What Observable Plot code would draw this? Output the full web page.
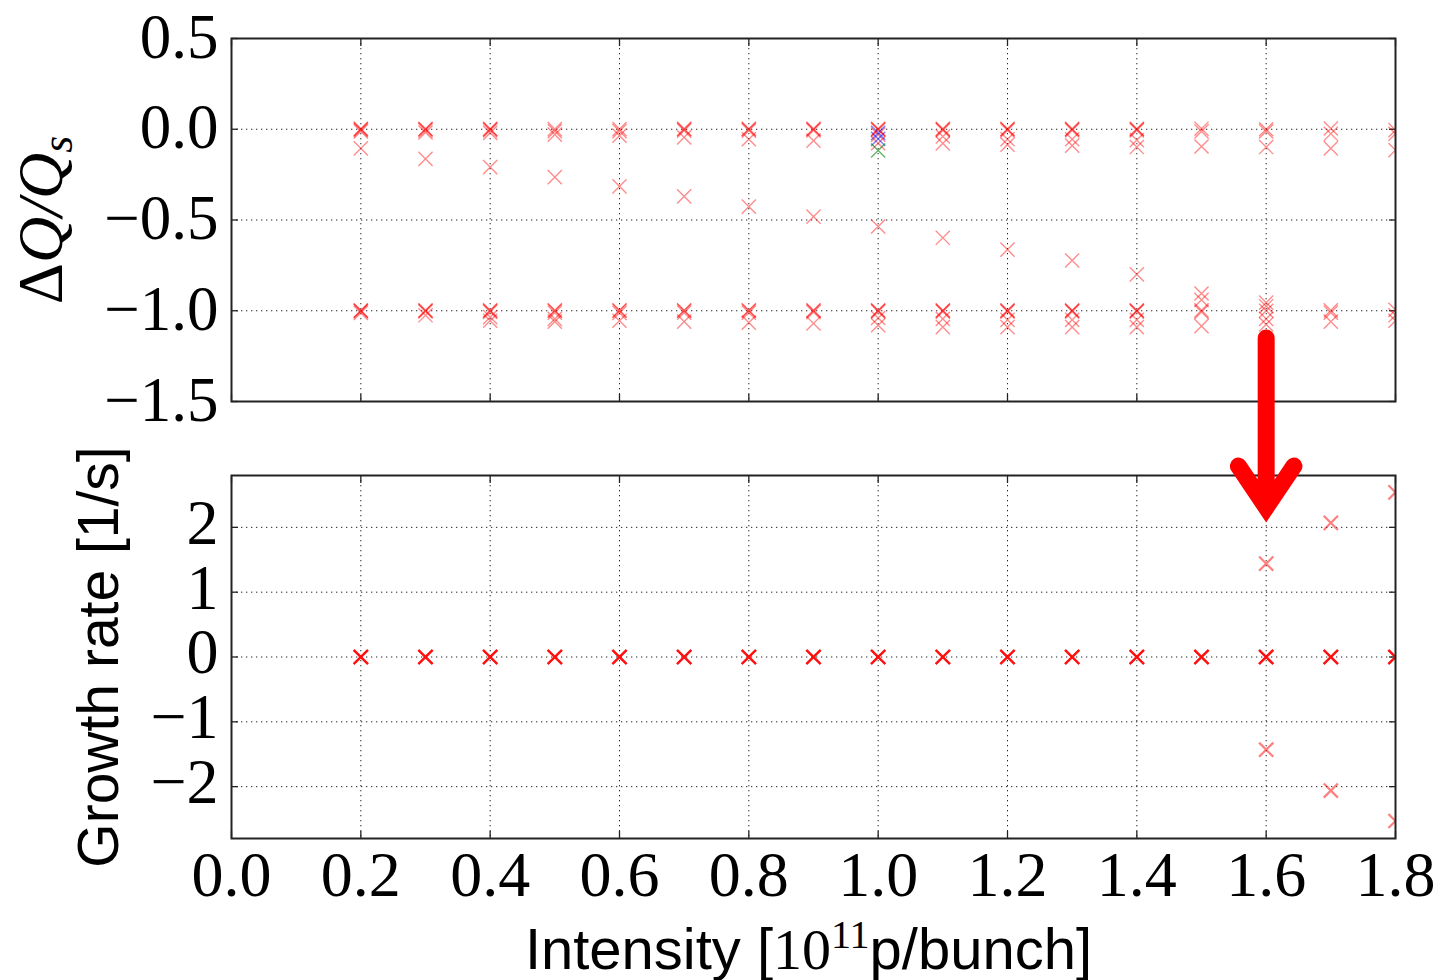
<!DOCTYPE html>
<html>
<head>
<meta charset="utf-8">
<script src="https://cdn.jsdelivr.net/npm/d3@7"></script>
<script src="https://cdn.jsdelivr.net/npm/@observablehq/plot@0.6"></script>
<style>
  body { margin: 0; background: #fff; }
  #fig { position: relative; width: 1435px; height: 980px; overflow: hidden; background: #fff; }
  #fig svg { display: block; overflow: visible; }
</style>
</head>
<body>
<div id="fig"></div>
<script>
// ---------- data ----------
const intensity = [0.2, 0.3, 0.4, 0.5, 0.6, 0.7, 0.8, 0.9, 1.0, 1.1, 1.2, 1.3, 1.4, 1.5, 1.6, 1.7, 1.8];

// ΔQ/Qs of the red markers, one list per intensity
const dqRed = [
  [0.003, 0.0, -0.004, -0.012, -0.105, -0.998, -1.0, -1.003, -1.012],
  [0.002, 0.0, -0.006, -0.018, -0.163, -0.998, -1.0, -1.004, -1.025],
  [0.002, 0.0, -0.006, -0.02, -0.209, -0.998, -1.0, -1.006, -1.035, -1.055],
  [0.001, -0.01, -0.03, -0.264, -0.998, -1.0, -1.01, -1.045, -1.06],
  [0.001, -0.01, -0.035, -0.315, -0.998, -1.0, -1.012, -1.055],
  [0.002, 0.0, -0.008, -0.045, -0.37, -0.998, -1.0, -1.01, -1.06],
  [0.002, 0.0, -0.008, -0.055, -0.426, -0.998, -1.0, -1.01, -1.065],
  [0.002, 0.0, -0.006, -0.063, -0.481, -0.998, -1.0, -1.008, -1.07],
  [0.003, 0.0, -0.004, -0.03, -0.077, -0.536, -0.998, -1.0, -1.005, -1.04, -1.08],
  [0.002, 0.0, -0.006, -0.04, -0.078, -0.598, -0.998, -1.0, -1.005, -1.045, -1.09],
  [0.002, 0.0, -0.006, -0.055, -0.085, -0.663, -0.998, -1.0, -1.005, -1.05, -1.09],
  [0.002, 0.0, -0.006, -0.055, -0.09, -0.723, -0.998, -1.0, -1.005, -1.05, -1.09],
  [0.002, 0.0, -0.006, -0.06, -0.098, -0.80, -0.998, -1.0, -1.005, -1.05, -1.09],
  [0.003, -0.012, -0.095, -0.905, -0.94, -0.998, -1.006, -1.085],
  [0.0, -0.012, -0.098, -0.955, -0.975, -1.0, -1.045, -1.075],
  [0.004, -0.025, -0.105, -0.998, -1.01, -1.06],
  [-0.005, -0.025, -0.115, -0.995, -1.025, -1.055]
];
const blueX = [1.0, 1.0];
const blueDq = [-0.02, -0.053];
const greenX = [1.0];
const greenDq = [-0.117];

// growth rate [1/s] of the red markers, one list per intensity
const growthRed = [
  [0, 0, 0, 0], [0, 0, 0, 0], [0, 0, 0, 0], [0, 0, 0, 0], [0, 0, 0, 0],
  [0, 0, 0, 0], [0, 0, 0, 0], [0, 0, 0, 0], [0, 0, 0, 0], [0, 0, 0, 0],
  [0, 0, 0, 0], [0, 0, 0, 0], [0, 0, 0, 0], [0, 0, 0, 0],
  [0, 0, 0, 0, 1.44, -1.43],
  [0, 0, 0, 0, 2.07, -2.06],
  [0, 0, 0, 0, 2.54, -2.53]
];

const xTicks = [0, 0.2, 0.4, 0.6, 0.8, 1.0, 1.2, 1.4, 1.6, 1.8];
const dqTicks = [0.5, 0, -0.5, -1.0, -1.5];
const growthTicks = [2, 1, 0, -1, -2];
const xDomain = [0, 1.8];
const dqDomain = [-1.5, 0.5];
const growthDomain = [-2.8, 2.8];

const dqLabel = "ΔQ/Qs";
const growthLabel = "Growth rate [1/s]";
const xLabel = "Intensity [1011p/bunch]";

// annotation arrow (data units of the lower panel)
const arrowX = 1.6, arrowFrom = 4.92, arrowTo = 2.31;

// ---------- helpers ----------
const minus = (s) => s.replace("-", "\u2212");
const fmtDq = (d) => minus(d.toFixed(1));
const fmtGr = (d) => minus(String(d));
const fmtX = (d) => d.toFixed(1);

const W = 1435;
const serif = "'Liberation Serif', 'DejaVu Serif', serif";
const sans = "'Liberation Sans', Arial, Helvetica, sans-serif";
const red = "#ff0000";

const topRed = intensity.flatMap((x, i) => dqRed[i].map((y) => ({x, y})));
const topBlue = blueX.map((x, i) => ({x, y: blueDq[i]}));
const topGreen = greenX.map((x, i) => ({x, y: greenDq[i]}));
const botRed = intensity.flatMap((x, i) => growthRed[i].map((y) => ({x, y})));

function frameMarks(yTicks, showX) {
  const gridStyle = {stroke: "#222", strokeOpacity: 1, strokeWidth: 1, strokeDasharray: "1.3,3.7"};
  const tickStyle = {tickSize: 7, tickFormat: () => "", label: null, stroke: "#222", strokeWidth: 1.3};
  return [
    Plot.gridX(xTicks, gridStyle),
    Plot.gridY(yTicks, gridStyle),
    Plot.axisX(xTicks, {anchor: "bottom", dy: -7, ...tickStyle}),
    Plot.axisX(xTicks, {anchor: "top", dy: 7, ...tickStyle}),
    Plot.axisY(yTicks, {anchor: "left", dx: 7, ...tickStyle}),
    Plot.axisY(yTicks, {anchor: "right", dx: -7, ...tickStyle}),
    ...(showX ? [Plot.axisX(xTicks, {anchor: "bottom", tickSize: 0, tickPadding: 12, tickFormat: fmtX,
      label: null, fontSize: 64, fontFamily: serif, fill: "#000"})] : [])
  ];
}

const R = 6.5;

const topPlot = Plot.plot({
  width: W, height: 440,
  marginTop: 38, marginBottom: 39, marginLeft: 231, marginRight: 40,
  style: {background: "transparent", overflow: "visible", color: "#000"},
  x: {domain: xDomain},
  y: {domain: dqDomain},
  marks: [
    ...frameMarks(dqTicks, false),
    Plot.axisY(dqTicks, {anchor: "left", tickSize: 0, tickPadding: 13, dy: -1, tickFormat: fmtDq,
      label: null, fontSize: 63, fontFamily: serif, fill: "#000"}),
    Plot.dot(topRed, {x: "x", y: "y", symbol: "times", r: R, stroke: red, strokeOpacity: 0.45, strokeWidth: 1.4, clip: true}),
    Plot.dot(topBlue, {x: "x", y: "y", symbol: "times", r: R, stroke: "#0000ff", strokeOpacity: 0.5, strokeWidth: 1.4, clip: true}),
    Plot.dot(topGreen, {x: "x", y: "y", symbol: "times", r: R, stroke: "#008000", strokeOpacity: 0.6, strokeWidth: 1.4, clip: true}),
    Plot.frame({stroke: "#222", strokeWidth: 2}),
    Plot.text([dqLabel], {frameAnchor: "left", dx: -170, rotate: -90, textAnchor: "middle", lineAnchor: "bottom",
      fontSize: 64, fontFamily: serif, fontStyle: "italic", fill: "#000"})
  ]
});

const botPlot = Plot.plot({
  width: W, height: 540,
  marginTop: 35, marginBottom: 142, marginLeft: 231, marginRight: 40,
  style: {background: "transparent", overflow: "visible", color: "#000"},
  x: {domain: xDomain},
  y: {domain: growthDomain},
  marks: [
    ...frameMarks(growthTicks, true),
    Plot.axisY(growthTicks, {anchor: "left", tickSize: 0, tickPadding: 13, dy: -4, tickFormat: fmtGr,
      label: null, fontSize: 64, fontFamily: serif, fill: "#000"}),
    Plot.dot(botRed, {x: "x", y: "y", symbol: "times", r: R, stroke: red, strokeOpacity: 0.5, strokeWidth: 2.2, clip: true}),
    Plot.frame({stroke: "#222", strokeWidth: 2}),
    Plot.text([growthLabel], {frameAnchor: "left", dx: -114, rotate: -90, textAnchor: "middle", lineAnchor: "bottom",
      fontSize: 57, fontFamily: sans, fill: "#000"}),
    Plot.text([xLabel], {frameAnchor: "bottom", dy: 130, dx: -5, textAnchor: "middle", lineAnchor: "bottom",
      fontSize: 58, fontFamily: sans, fill: "#000"}),
    Plot.arrow([{x: arrowX, y1: arrowFrom, y2: arrowTo}], {x: "x", y1: "y1", y2: "y2", stroke: red, strokeWidth: 17,
      headLength: 4.38, headAngle: 68, strokeLinecap: "round", strokeLinejoin: "miter", strokeMiterlimit: 10})
  ]
});

const fig = document.getElementById("fig");
fig.appendChild(topPlot);
fig.appendChild(botPlot);

// rich text for the two labels with sub/superscripts
d3.select(topPlot).selectAll("text").filter(function () { return this.textContent === dqLabel; })
  .each(function () {
    const t = d3.select(this);
    t.text(null);
    t.append("tspan").attr("font-style", "normal").text("Δ");
    t.append("tspan").text("Q/Q");
    t.append("tspan").attr("font-size", "0.68em").attr("dy", "0.25em").text("s");
  });

d3.select(botPlot).selectAll("text").filter(function () { return this.textContent === xLabel; })
  .each(function () {
    const t = d3.select(this);
    t.text(null);
    t.append("tspan").text("Intensity [");
    t.append("tspan").attr("font-family", serif).attr("font-size", 58).text("10");
    t.append("tspan").attr("font-family", serif).attr("font-size", 40).attr("dy", -21).text("11");
    t.append("tspan").attr("dy", 21).text("p/bunch]");
  });
</script>
</body>
</html>
